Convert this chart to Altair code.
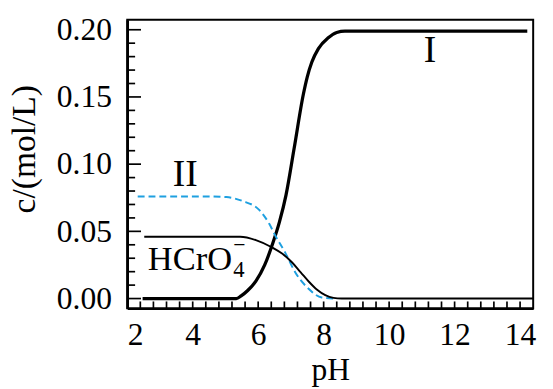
import altair as alt
import pandas as pd

# ---- data ----
ph_I = [2.47, 5.33, 5.48, 5.68, 5.93, 6.20, 6.43, 6.65, 6.85, 7.10, 7.38, 7.50, 7.64, 7.84, 8.14, 8.40, 8.65, 14.22]
c_I = [0.0, 0.0, 0.002, 0.006, 0.013, 0.025, 0.040, 0.057, 0.077, 0.112, 0.152, 0.165, 0.176, 0.186, 0.194, 0.198, 0.199, 0.199]

ph_H = [2.52, 5.45, 5.93, 6.43, 6.73, 7.03, 7.30, 7.55, 7.80, 8.05, 8.30, 8.55, 14.40]
c_H = [0.046, 0.046, 0.0435, 0.038, 0.0335, 0.027, 0.0195, 0.0125, 0.0065, 0.0025, 0.0005, 0.0, 0.0]

ph_II = [2.32, 4.50, 5.03, 5.53, 6.03, 6.33, 6.53, 6.83, 7.13, 7.54, 7.94, 8.39]
c_II = [0.076, 0.076, 0.0755, 0.0725, 0.066, 0.056, 0.0465, 0.034, 0.0196, 0.0073, 0.0008, 0.0]

x_labels = [2, 4, 6, 8, 10, 12, 14]
y_labels = [0.00, 0.05, 0.10, 0.15, 0.20]
x_ticks = [round(2.4 + 0.4 * i, 1) for i in range(30)]
y_minor = [round(0.01 * i, 2) for i in range(21) if i % 5]
y_major = y_labels

lab_roman = ["I", "II"]
lab_roman_x = [11.25, 3.77]
lab_roman_y = [0.184, 0.092]

# ---- layout ----
X_DOM = [2.0, 14.4]
Y_DOM = [-0.0073, 0.2075]
W, H = 412, 293
FONT = "Liberation Serif"
BLUE = "#1ea0e0"

xs = alt.Scale(domain=X_DOM, nice=False, zero=False)
ys = alt.Scale(domain=Y_DOM, nice=False, zero=False)

df_I = pd.DataFrame({"pH": ph_I, "c": c_I})
df_H = pd.DataFrame({"pH": ph_H, "c": c_H})
df_II = pd.DataFrame({"pH": ph_II, "c": c_II})

x_axis = alt.Axis(
    values=x_labels, format="d", title="pH", grid=False, ticks=False, tickSize=0,
    labelFont=FONT, labelFontSize=32, labelColor="black", labelPadding=12,
    domain=True, domainColor="black", domainWidth=2.5,
    titleFont=FONT, titleFontSize=32, titleFontWeight="normal", titleColor="black",
    titleX=206, titleY=72, titleAlign="center", titleBaseline="alphabetic",
)
y_axis = alt.Axis(
    values=y_labels, format=".2f", title="c/(mol/L)", grid=False, ticks=False, tickSize=0,
    labelFont=FONT, labelFontSize=32, labelColor="black", labelPadding=16,
    domain=True, domainColor="black", domainWidth=2.6,
    titleFont=FONT, titleFontSize=34, titleFontWeight="normal", titleColor="black",
    titleAngle=270, titleX=-94, titleY=131, titleAlign="center", titleBaseline="alphabetic",
)

X = alt.X("pH:Q", scale=xs)
Y = alt.Y("c:Q", scale=ys)

line_I = alt.Chart(df_I).mark_line(color="black", strokeWidth=3.3, interpolate="monotone").encode(
    x=alt.X("pH:Q", scale=xs, axis=x_axis),
    y=alt.Y("c:Q", scale=ys, axis=y_axis),
)
line_H = alt.Chart(df_H).mark_line(color="black", strokeWidth=1.9, interpolate="monotone").encode(x=X, y=Y)
line_II = alt.Chart(df_II).mark_line(color=BLUE, strokeWidth=2, strokeDash=[7, 4], interpolate="monotone").encode(x=X, y=Y)

# inward ticks
yt_minor = alt.Chart(pd.DataFrame({"c": y_minor})).mark_rule(color="black", strokeWidth=1.7).encode(
    y=Y, x=alt.value(0), x2=alt.value(8)
)
yt_major = alt.Chart(pd.DataFrame({"c": y_major})).mark_rule(color="black", strokeWidth=1.7).encode(
    y=Y, x=alt.value(0), x2=alt.value(14)
)
xt = alt.Chart(pd.DataFrame({"pH": x_ticks})).mark_rule(color="black", strokeWidth=1.7).encode(
    x=X, y=alt.value(H), y2=alt.value(H - 7)
)

# curve labels
roman = alt.Chart(pd.DataFrame({"t": lab_roman, "pH": lab_roman_x, "c": lab_roman_y})).mark_text(
    font=FONT, fontSize=38, color="black", align="center", baseline="middle"
).encode(x=X, y=Y, text="t:N")
hcro = alt.Chart(pd.DataFrame({"t": ["HCrO"], "pH": [2.63], "c": [0.0215]})).mark_text(
    font=FONT, fontSize=35, color="black", align="left", baseline="alphabetic"
).encode(x=X, y=Y, text="t:N")
sub4 = alt.Chart(pd.DataFrame({"t": ["4"], "pH": [5.24], "c": [0.016]})).mark_text(
    font=FONT, fontSize=23, color="black", align="left", baseline="alphabetic"
).encode(x=X, y=Y, text="t:N")
supm = alt.Chart(pd.DataFrame({"t": ["−"], "pH": [5.24], "c": [0.035]})).mark_text(
    font=FONT, fontSize=22, color="black", align="left", baseline="alphabetic"
).encode(x=X, y=Y, text="t:N")

chart = alt.layer(
    line_I, line_II, line_H, yt_minor, yt_major, xt, roman, hcro, sub4, supm
).properties(
    width=W, height=H,
    autosize=alt.AutoSizeParams(type="none"),
    padding={"left": 121, "top": 9, "right": 12, "bottom": 79},
    background="white",
).configure_view(stroke="black", strokeWidth=2)

chart.save("out.html", embed_options={"renderer": "svg", "actions": False})
